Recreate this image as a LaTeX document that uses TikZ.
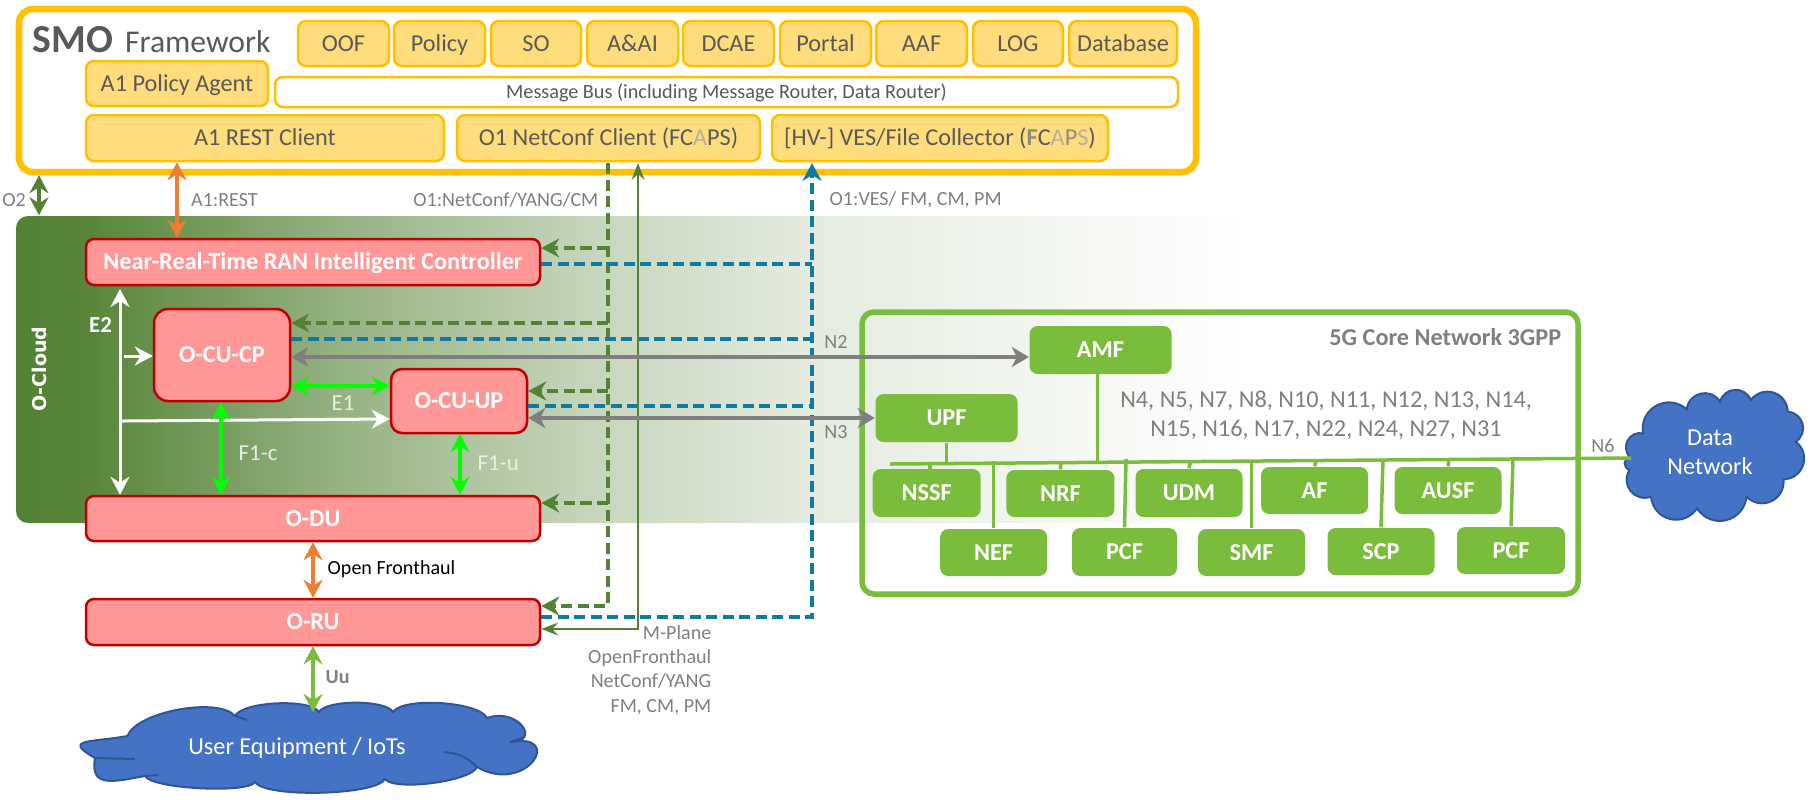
\documentclass[tikz,border=0pt]{standalone}
\usepackage{fontspec}
\setmainfont{Carlito}
\newfontfamily\widefont{DejaVu Sans}
\usepackage{xcolor}
\usetikzlibrary{arrows.meta}

\definecolor{smoYellow}{HTML}{FFC000}
\definecolor{smoFill}{HTML}{FFDD7C}
\definecolor{ranRed}{HTML}{C00000}
\definecolor{ranFill}{HTML}{FF9797}
\definecolor{coreGreen}{HTML}{7ABD3D}
\definecolor{cloudGreen}{HTML}{548235}
\definecolor{veryGreen}{HTML}{00FF00}
\definecolor{vesBlue}{HTML}{0F7BA3}
\definecolor{arrowOrange}{HTML}{ED7D31}
\definecolor{skyBlue}{HTML}{4472C4}
\definecolor{skyEdge}{HTML}{2F5597}
\definecolor{darkText}{HTML}{595959}
\definecolor{greyText}{HTML}{7F7F7F}
\definecolor{paleText}{HTML}{E8F0E0}
\definecolor{fadeText}{HTML}{B5B0A0}
\definecolor{midText}{HTML}{8F8C80}

\pgfdeclarehorizontalshading{cloudfade}{100bp}{
  color(0bp)=(cloudGreen);
  color(25bp)=(cloudGreen);
  color(28bp)=(cloudGreen!97!white);
  color(38bp)=(cloudGreen!62!white);
  color(48bp)=(cloudGreen!34!white);
  color(57bp)=(cloudGreen!16!white);
  color(65bp)=(cloudGreen!9!white);
  color(75bp)=(white);
  color(100bp)=(white)}

\begin{document}
\begin{tikzpicture}[
            x = 0.01cm, y = -0.01cm, % one unit is one pixel of the drawing
            > = {Stealth[length=0.18cm,width=0.19cm,inset=0.06cm]}, % arrow head style
            wh/.style 2 args = {minimum width=#1*0.01cm, minimum height=#2*0.01cm},
            txt/.style = {font=\fontsize{6.9}{8.2}\selectfont, inner sep=0pt},
            box/.style = {rectangle, rounded corners=0.08cm, inner sep=0pt, text height=0.2cm, text depth=0.044cm},
            smobox/.style = {box, txt, draw=smoYellow, line width=0.025cm, fill=smoFill, text=darkText},
            ranbox/.style = {box, txt, font=\fontsize{6.9}{8.2}\selectfont\bfseries, draw=ranRed, line width=0.025cm, fill=ranFill, text=white},
            corebox/.style = {box, txt, font=\fontsize{6.9}{8.2}\selectfont\bfseries, fill=coreGreen, text=white},
            note/.style = {txt, font=\fontsize{5.7}{6.9}\selectfont, text=greyText},
            inner/.style = {txt, text=paleText, font=\fontsize{6.5}{7.4}\selectfont},
            sky/.style = {draw=skyEdge, line width=0.02cm, fill=skyBlue},
            skytext/.style = {txt, text=white, align=center},
            puff/.style = {bend left=70, looseness=1.3},
            lobe/.style = {bend left=60, looseness=#1},
            gdash/.style = {color=cloudGreen, line width=0.035cm, dash pattern=on 0.11cm off 0.055cm},
            bdash/.style = {color=vesBlue, line width=0.035cm, dash pattern=on 0.11cm off 0.055cm},
            gthin/.style = {color=cloudGreen, line width=0.015cm, > = {Stealth[length=0.17cm,width=0.13cm,inset=0.06cm]}},
            gline/.style = {color=greyText, line width=0.035cm, > = {Stealth[length=0.17cm,width=0.2cm,inset=0.05cm]}},
            bright/.style = {color=veryGreen, line width=0.035cm},
            wline/.style = {color=white, line width=0.03cm},
            oline/.style = {color=arrowOrange, line width=0.035cm},
            coreline/.style = {color=coreGreen, line width=0.035cm}
        ]
\useasboundingbox (0,0) rectangle (1816,799);

% backdrop and frames
\node[rectangle, rounded corners=0.12cm, shading=cloudfade, wh={1234}{307}, inner sep=0pt] (cloudbg) at (633,369.5) {};
\node[rectangle, rounded corners=0.14cm, draw=smoYellow, line width=0.065cm, wh={1177}{163}] (smo) at (607.5,90.5) {};
\node[rectangle, rounded corners=0.12cm, draw=coreGreen, line width=0.055cm, wh={716}{282}] (core) at (1220,453) {};

\node[txt, anchor=base west, text=darkText, font=\fontsize{11.3}{14}\selectfont] (smotitle) at (32,52) {\textbf{SMO}\hspace{0.12cm}{\fontsize{9}{12}\selectfont Framework}};
\node[txt, text=white, rotate=90, font=\fontsize{5.4}{6}\selectfont\widefont\bfseries] (ocloud) at (39,369) {O-Cloud};

% SMO boxes
\node[smobox, wh={91}{45}] (OOF) at (343.5,43.5) {OOF};
\node[smobox, wh={91}{45}] (Policy) at (439.5,43.5) {Policy};
\node[smobox, wh={90}{45}] (SO) at (536,43.5) {SO};
\node[smobox, wh={91}{45}] (AAI) at (632.5,43.5) {A\&AI};
\node[smobox, wh={91}{45}] (DCAE) at (728.5,43.5) {DCAE};
\node[smobox, wh={91}{45}] (Portal) at (825.5,43.5) {Portal};
\node[smobox, wh={91}{45}] (AAF) at (921.5,43.5) {AAF};
\node[smobox, wh={90}{45}] (LOG) at (1018,43.5) {LOG};
\node[smobox, wh={108}{45}] (Database) at (1123,43.5) {Database};
\node[smobox, wh={182}{45}] (agent) at (177,83.5) {A1 Policy Agent};
\node[smobox, fill=white, wh={903}{30}, font=\fontsize{5.75}{6.9}\selectfont, text height=0.17cm] (bus) at (726.5,92) {Message Bus (including Message Router, Data Router)};
\node[smobox, wh={358}{46}] (rest) at (265,138) {A1 REST Client};
\node[smobox, wh={303}{46}] (netconf) at (608.5,138) {O1 NetConf Client (FC{\color{fadeText}A}PS)};
\node[smobox, wh={336}{46}] (ves) at (940,138) {[HV-] VES/File Collector ({\color{midText}\textbf{F}}C{\color{fadeText}A}{\color{midText}P}{\color{fadeText}S})};

% RAN boxes
\node[ranbox, wh={454}{46}] (nearrt) at (313,262) {Near-Real-Time RAN Intelligent Controller};
\node[ranbox, wh={136}{92}, rounded corners=0.14cm] (cucp) at (222,355) {O-CU-CP};
\node[ranbox, wh={136}{64}, rounded corners=0.11cm] (cuup) at (459,401) {O-CU-UP};
\node[ranbox, wh={454}{45}] (du) at (313,518.5) {O-DU};
\node[ranbox, wh={454}{46}] (ru) at (313,622) {O-RU};

% core boxes
\node[corebox, wh={142}{48}] (AMF) at (1100.5,350) {AMF};
\node[corebox, wh={142}{48}] (UPF) at (946.5,418) {UPF};
\node[corebox, wh={108}{48}] (NSSF) at (926.7,493) {NSSF};
\node[corebox, wh={108}{47}] (NRF) at (1060.4,493.5) {NRF};
\node[corebox, wh={107}{48}] (UDM) at (1189,493) {UDM};
\node[corebox, wh={107}{47}] (AF) at (1314.6,490.5) {AF};
\node[corebox, wh={107}{47}] (AUSF) at (1448,490.5) {AUSF};
\node[corebox, wh={107}{47}] (NEF) at (993.6,552.5) {NEF};
\node[corebox, wh={105}{48}] (PCFa) at (1124.5,552) {PCF};
\node[corebox, wh={107}{47}] (SMF) at (1251.6,552.5) {SMF};
\node[corebox, wh={107}{47}] (SCP) at (1381,551.5) {SCP};
\node[corebox, wh={108}{47}] (PCFb) at (1511,550.5) {PCF};

% clouds
\draw[sky] (1629.4,456.7) to[puff] (1643,433.3) to[puff] (1686.7,409.3) to[puff] (1720,401.7) to[puff] (1750.8,400) to[puff] (1787.8,411.7) to[puff] (1795.8,441.7) to[puff] (1783.5,479.3) to[puff] (1746.5,496.7) to[puff] (1697,508.3) to[puff] (1651,496.7) to[puff] (1629.4,470) to[puff] cycle;
\node[skytext] (dn) at (1710,452) {Data\\Network};
\draw[sky] (127.5,736) to[lobe=0.6] (235,716) to[lobe=0.5] (319,712) to[lobe=0.5] (393,712) to[lobe=0.5] (487,718)
  to[out=20, in=0, looseness=2.5] (510,742) to[out=10, in=-30, looseness=3.5] (477,767) to[lobe=0.43] (385,779) to[lobe=0.37] (255,782)
  to[lobe=0.33] (145,776) to[out=190, in=260, looseness=1.5] (95,758) to[out=150, in=190, looseness=2.5] cycle;
\draw[draw=skyEdge, line width=0.02cm] (235,716) -- (247,720) (510,742) -- (525,737) (444,752) to[bend left=20] (477,767) (95,758) -- (135,759) (145,776) -- (158,775);
\node[skytext] (ue) at (297,748) {User Equipment / IoTs};

% lanes and bends
\coordinate (o2x) at (39,0);
\coordinate (a1x) at (177,0);
\coordinate (e2x) at (120,0);
\coordinate (f1cx) at (221,0);
\coordinate (f1ux) at (460,0);
\coordinate (dashx) at (608,0);
\coordinate (thinx) at (638,0);
\coordinate (vesx) at (812,0);
\coordinate (topy) at (0,163);
\coordinate (gnear) at (608,248);
\coordinate (gcp) at (608,323);
\coordinate (gup) at (608,391);
\coordinate (gdu) at (608,503);
\coordinate (gru) at (608,606);
\coordinate (bnear) at (812,264);
\coordinate (bcp) at (812,339);
\coordinate (bup) at (812,406);
\coordinate (bru) at (812,617);
\coordinate (tru) at (638,629);
\coordinate (n2y) at (0,357);
\coordinate (n3y) at (0,418);
\coordinate (e1y) at (0,386);
\coordinate (e2top) at (120,289);
\coordinate (e2cp) at (124,356);
\coordinate (e2up) at (122,421);
\coordinate (e2upend) at (0,419);
\coordinate (uetop) at (313,712);
\coordinate (busl) at (890,464);
\coordinate (busr) at (1631,458);

% SMO to O-Cloud and RAN
\path [<->, color=cloudGreen, line width=0.03cm] (o2x |- smo.south) edge (o2x |- cloudbg.north);
\path [<->, oline] (a1x |- rest.south) edge (a1x |- nearrt.north);
\path [<->, oline] (du.south) edge (ru.north);
\path [<->, coreline] (ru.south) edge (uetop);

% internal interfaces
\path [<->, wline] (e2top) edge (e2x |- du.north);
\path [->, wline] (e2cp) edge (e2cp -| cucp.west);
\path [->, wline] (e2up) edge (cuup.west |- e2upend);
\path [<->, bright] (cucp.east |- e1y) edge (cuup.west |- e1y);
\path [<->, bright] (f1cx |- cucp.south) edge (f1cx |- du.north);
\path [<->, bright] (f1ux |- cuup.south) edge (f1ux |- du.north);

% O1 configuration, dashed
\draw [gdash, ->] (dashx |- topy) -- (gru) -- (gru -| ru.east);
\path [gdash, ->] (gnear) edge (gnear -| nearrt.east);
\path [gdash, ->] (gcp) edge (gcp -| cucp.east);
\path [gdash, ->] (gup) edge (gup -| cuup.east);
\path [gdash, ->] (gdu) edge (gdu -| du.east);

% O1 reporting, dashed
\draw [bdash, ->] (bru -| ru.east) -- (bru) -- (vesx |- topy);
\path [bdash] (bnear -| nearrt.east) edge (bnear);
\path [bdash] (bcp -| cucp.east) edge (bcp);
\path [bdash] (bup -| cuup.east) edge (bup);

% M-Plane
\draw [gthin, <->] (thinx |- topy) -- (tru) -- (tru -| ru.east);

% N2 and N3
\path [<->, gline] (cucp.east |- n2y) edge (AMF.west |- n2y);
\path [<->, gline] (cuup.east |- n3y) edge (UPF.west |- n3y);

% service bus of the core
\path [coreline] (busl) edge (busr);
\path [coreline] (1097.7,374) edge (1097.7,463);
\path [coreline] (UPF.south) edge (946.5,463);
\path [coreline] (930,463) edge (930,469);
\path [coreline] (993.6,461) edge (NEF.north);
\path [coreline] (1061,462) edge (NRF.north);
\path [coreline] (1126,459) edge (PCFa.north);
\path [coreline] (1190.7,461) edge (UDM.north);
\path [coreline] (1251.6,460) edge (SMF.north);
\path [coreline] (1316.4,460) edge (AF.north);
\path [coreline] (1383,459) edge (SCP.north);
\path [coreline] (1449,459) edge (AUSF.north);
\path [coreline] (1513,459) edge (PCFb.north);

% labels
\node[note] (o2lab) at (14,200) {O2};
\node[note, anchor=west] (a1lab) at (190.5,200) {A1:REST};
\node[note, anchor=east] (o1lab) at (599,200) {O1:NetConf/YANG/CM};
\node[note, anchor=west] (veslab) at (829,200) {O1:VES/ FM, CM, PM};
\node[inner, text=white, font=\fontsize{6.5}{7.4}\selectfont\bfseries] (e2lab) at (100.5,325) {E2};
\node[inner] (e1lab) at (343,403) {E1};
\node[inner, anchor=west] (f1clab) at (238,453) {F1-c};
\node[inner, anchor=west] (f1ulab) at (477,463) {F1-u};
\node[note, text=black, anchor=west] (fhlab) at (327,569) {Open Fronthaul};
\node[note, font=\fontsize{5.7}{6.9}\selectfont\bfseries, anchor=west] (uulab) at (325,677) {Uu};
\node[note, anchor=east, align=right, font=\fontsize{5.7}{6.9}\selectfont] (mplane) at (712,670) {M-Plane\\OpenFronthaul\\NetConf/YANG\\FM, CM, PM};
\node[note] (n2lab) at (836,342) {N2};
\node[note] (n3lab) at (836,432) {N3};
\node[note, anchor=east, font=\fontsize{6.9}{8.2}\selectfont\bfseries] (corelab) at (1562,337) {5G Core Network 3GPP};
\node[note, align=center, font=\fontsize{6.9}{8.3}\selectfont] (nlist) at (1326,415.5) {N4, N5, N7, N8, N10, N11, N12, N13, N14,\\N15, N16, N17, N22, N24, N27, N31};
\node[note] (n6lab) at (1603,446) {N6};
\end{tikzpicture}
\end{document}
